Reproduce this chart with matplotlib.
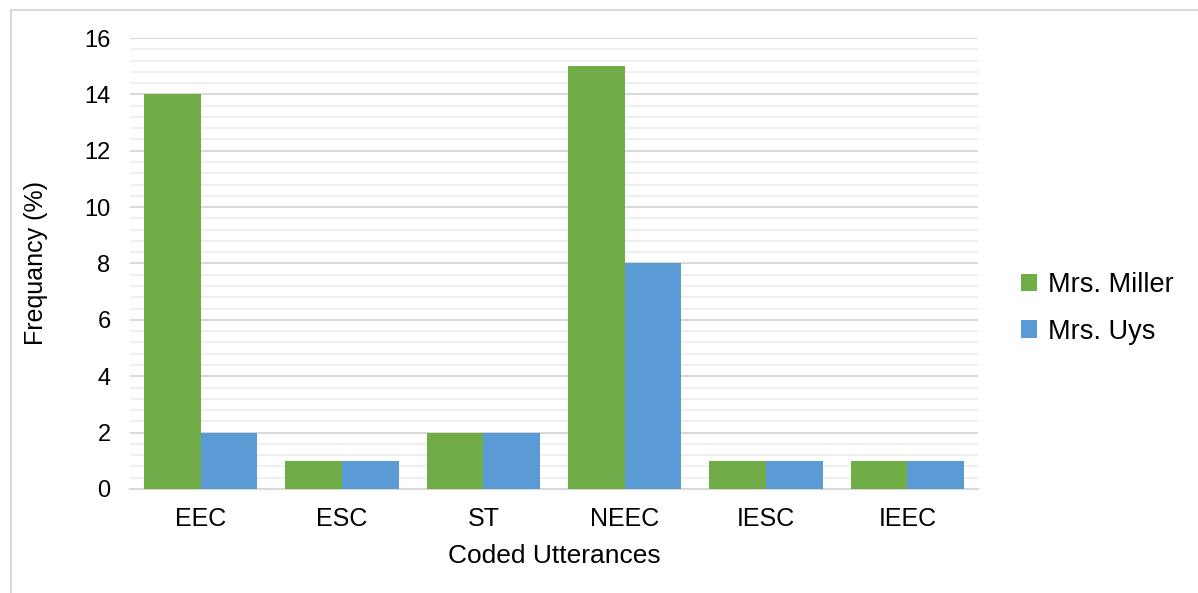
import numpy as np
import matplotlib.pyplot as plt
from matplotlib.lines import Line2D
from matplotlib.ticker import MultipleLocator

plt.rcParams['font.family'] = ['Liberation Sans', 'DejaVu Sans']

categories = ['EEC', 'ESC', 'ST', 'NEEC', 'IESC', 'IEEC']
miller = [14, 1, 2, 15, 1, 1]
uys = [2, 1, 2, 8, 1, 1]
series_names = ['Mrs. Miller', 'Mrs. Uys']
colors = ['#70AD47', '#5B9BD5']

fig = plt.figure(figsize=(11.98, 5.93), dpi=100)
ax = fig.add_axes([0.1085, 0.1754, 0.7079, 0.7605])

x = np.arange(len(categories))
w = 0.4
ax.bar(x - w / 2, miller, width=w, color=colors[0], label=series_names[0], zorder=3)
ax.bar(x + w / 2, uys, width=w, color=colors[1], label=series_names[1], zorder=3)

ax.set_xlim(-0.5, len(categories) - 0.5)
ax.set_ylim(0, 16)
ax.yaxis.set_major_locator(MultipleLocator(2))
ax.yaxis.set_minor_locator(MultipleLocator(0.4))
ax.grid(axis='y', which='major', color='#D9D9D9', linewidth=1.5, zorder=0)
ax.grid(axis='y', which='minor', color='#EFEFEF', linewidth=1.5, zorder=0)
ax.set_axisbelow(True)

for s in ['top', 'right', 'left']:
    ax.spines[s].set_visible(False)
ax.spines['bottom'].set_color('#D9D9D9')
ax.spines['bottom'].set_linewidth(1.5)

ax.set_xticks(x)
ax.set_xticklabels(categories)
ax.tick_params(axis='both', which='both', length=0, labelsize=17, colors='black')
ax.tick_params(axis='x', labelsize=18, pad=13)
ax.tick_params(axis='y', pad=14)

ax.set_xlabel('Coded Utterances', fontsize=19, labelpad=9)
ax.set_ylabel('Frequancy (%)', fontsize=18, labelpad=26)

fig.legend(loc='center left', bbox_to_anchor=(0.832, 0.48), frameon=False,
           fontsize=19.5, handlelength=0.6, handleheight=0.6, handletextpad=0.4,
           labelspacing=0.75)

# outer chart frame
fig.add_artist(Line2D([11 / 1198, 11 / 1198], [0, 1 - 10 / 593],
                      transform=fig.transFigure, color='#D9D9D9', linewidth=1.5))
fig.add_artist(Line2D([11 / 1198, 1], [1 - 10 / 593, 1 - 10 / 593],
                      transform=fig.transFigure, color='#D9D9D9', linewidth=1.5))

fig.savefig('out.png', dpi=100)
